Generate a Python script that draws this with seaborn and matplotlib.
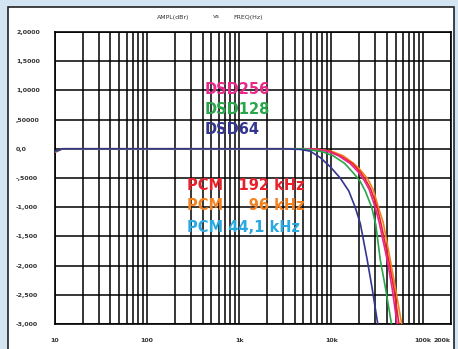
import matplotlib
matplotlib.use("Agg")
import matplotlib.pyplot as plt
import matplotlib.patches as mpatches
from matplotlib.ticker import FixedLocator, NullFormatter, NullLocator
import seaborn as sns
import pandas as pd

# ---- data ----
dsd64_f = [10, 12, 20, 100, 1000, 3000, 4600, 5900, 7600, 9800, 12500, 15500, 18200, 20700, 24600, 27900, 32400]
dsd64_db = [-0.04, 0, 0, 0, 0, 0, -0.01, -0.04, -0.15, -0.31, -0.50, -0.72, -1.0, -1.28, -1.9, -2.4, -3.05]

dsd128_f = [10, 12, 20, 100, 1000, 5000, 8000, 10500, 14000, 17300, 20500, 23400, 27500, 30500, 34100, 39000, 45700]
dsd128_db = [-0.05, 0, 0, 0, 0, 0, -0.05, -0.12, -0.25, -0.41, -0.55, -0.72, -1.0, -1.3, -1.9, -2.4, -3.05]

dsd256_f = [10, 12, 20, 100, 1000, 6000, 9000, 12000, 16000, 20000, 23000, 25900, 30000, 33200, 40500, 46000, 52500]
dsd256_db = [-0.06, 0, 0, 0, 0, 0, -0.04, -0.12, -0.25, -0.41, -0.55, -0.7, -1.0, -1.26, -1.9, -2.4, -3.05]

pcm192_f = [10, 12, 20, 100, 1000, 6200, 9500, 12500, 17000, 21000, 24000, 27000, 31500, 34500, 42000, 48000, 55000]
pcm192_db = [-0.05, 0, 0, 0, 0, 0, -0.04, -0.12, -0.25, -0.41, -0.55, -0.7, -1.0, -1.26, -1.9, -2.4, -3.05]

pcm96_f = [10, 12, 20, 100, 1000, 6500, 10000, 13500, 17500, 20700, 25000, 28600, 32500, 36700, 43800, 50000, 59000]
pcm96_db = [-0.05, 0, 0, 0, 0, 0, -0.04, -0.12, -0.25, -0.36, -0.52, -0.7, -1.0, -1.26, -1.9, -2.4, -3.05]

# drawing order: last one ends up on top (navy DSD64 on top, as in the reference)
series_names = ["PCM 96 kHz", "PCM 192 kHz", "DSD256", "DSD128", "DSD64"]
series_f = [pcm96_f, pcm192_f, dsd256_f, dsd128_f, dsd64_f]
series_db = [pcm96_db, pcm192_db, dsd256_db, dsd128_db, dsd64_db]
series_colors = ["#f58220", "#e8202a", "#e8288a", "#2aa64a", "#34358f"]

y_ticks = [2.0, 1.5, 1.0, 0.5, 0.0, -0.5, -1.0, -1.5, -2.0, -2.5, -3.0]
y_labels = ["2,0000", "1,5000", "1,0000", ",50000", "0,0", "-,5000", "-1,000", "-1,500", "-2,000", "-2,500", "-3,000"]
x_ticks = [10, 100, 1000, 10000, 100000, 200000]
x_labels = ["10", "100", "1k", "10k", "100k", "200k"]

legend_texts = ["DSD256", "DSD128", "DSD64", "PCM   192 kHz", "PCM     96 kHz", "PCM 44,1 kHz"]
legend_colors = ["#e8288a", "#2aa64a", "#34358f", "#e8202a", "#f58220", "#2aa8e0"]

rows = []
for name, fs, dbs in zip(series_names, series_f, series_db):
    for f, d in zip(fs, dbs):
        rows.append({"freq": f, "db": d, "series": name})
df = pd.DataFrame(rows)

sns.set_style("white")
plt.rcParams['font.family'] = ['DejaVu Sans']

W, H = 458, 349
fig = plt.figure(figsize=(W / 100, H / 100), dpi=100)
fig.patch.set_facecolor("#d3e5f3")

# background axes holding the white inner panel
bg = fig.add_axes([0, 0, 1, 1], zorder=0)
bg.set_xlim(0, W)
bg.set_ylim(H, 0)
bg.axis("off")
bg.add_patch(mpatches.Rectangle((8, 7), 446, 360, facecolor="white",
                                edgecolor="#222222", linewidth=1.2))

ax = fig.add_axes([55 / W, (H - 324) / H, (451 - 55) / W, (324 - 32) / H], zorder=2)
ax.set_facecolor("white")
ax.set_xscale("log")

# grid
minor = []
for dec in [10, 100, 1000, 10000, 100000]:
    for m in range(1, 10):
        v = dec * m
        if v <= 200000:
            minor.append(v)
for v in minor:
    ax.axvline(v, color="black", linewidth=1.1, zorder=1)
for v in y_ticks:
    ax.axhline(v, color="black", linewidth=1.1, zorder=1)

sns.lineplot(data=df, x="freq", y="db", hue="series", palette=dict(zip(series_names, series_colors)),
             hue_order=series_names, estimator=None, sort=False, linewidth=1.2, legend=False, ax=ax, zorder=3)

ax.set_xscale("log")
ax.set_xlim(10, 200000)
ax.set_ylim(-3, 2)
ax.xaxis.set_major_locator(FixedLocator(x_ticks))
ax.xaxis.set_minor_locator(NullLocator())
ax.xaxis.set_minor_formatter(NullFormatter())
ax.set_xticklabels(x_labels, fontsize=4.5, fontweight="bold", color="#333333")
ax.set_yticks(y_ticks)
ax.set_yticklabels(y_labels, fontsize=4.5, fontweight="bold", color="#333333", ha="left")
ax.tick_params(axis="both", which="both", length=0)
ax.tick_params(axis="y", pad=28)
ax.tick_params(axis="x", pad=10)
ax.get_xticklabels()[-1].set_horizontalalignment("right")
ax.set_xlabel("")
ax.set_ylabel("")
for s in ax.spines.values():
    s.set_color("black")
    s.set_linewidth(1.2)

fig.text(157 / W, 1 - 17 / H, "AMPL(dBr)", fontsize=4.5, color="#333333", va="center", ha="left")
fig.text(213 / W, 1 - 17 / H, "vs", fontsize=4.5, color="#333333", va="center", ha="left")
fig.text(233 / W, 1 - 17 / H, "FREQ(Hz)", fontsize=4.5, color="#333333", va="center", ha="left")

ys = [90, 109, 130, 185, 205, 227]
xs = [205, 205, 205, 187, 187, 187]
for t, c, x, y in zip(legend_texts, legend_colors, xs, ys):
    fig.text(x / W, 1 - y / H, t, fontsize=10.5, fontweight="bold", color=c,
             va="center", ha="left", zorder=10)

fig.savefig("out.png", dpi=100, facecolor=fig.get_facecolor())
